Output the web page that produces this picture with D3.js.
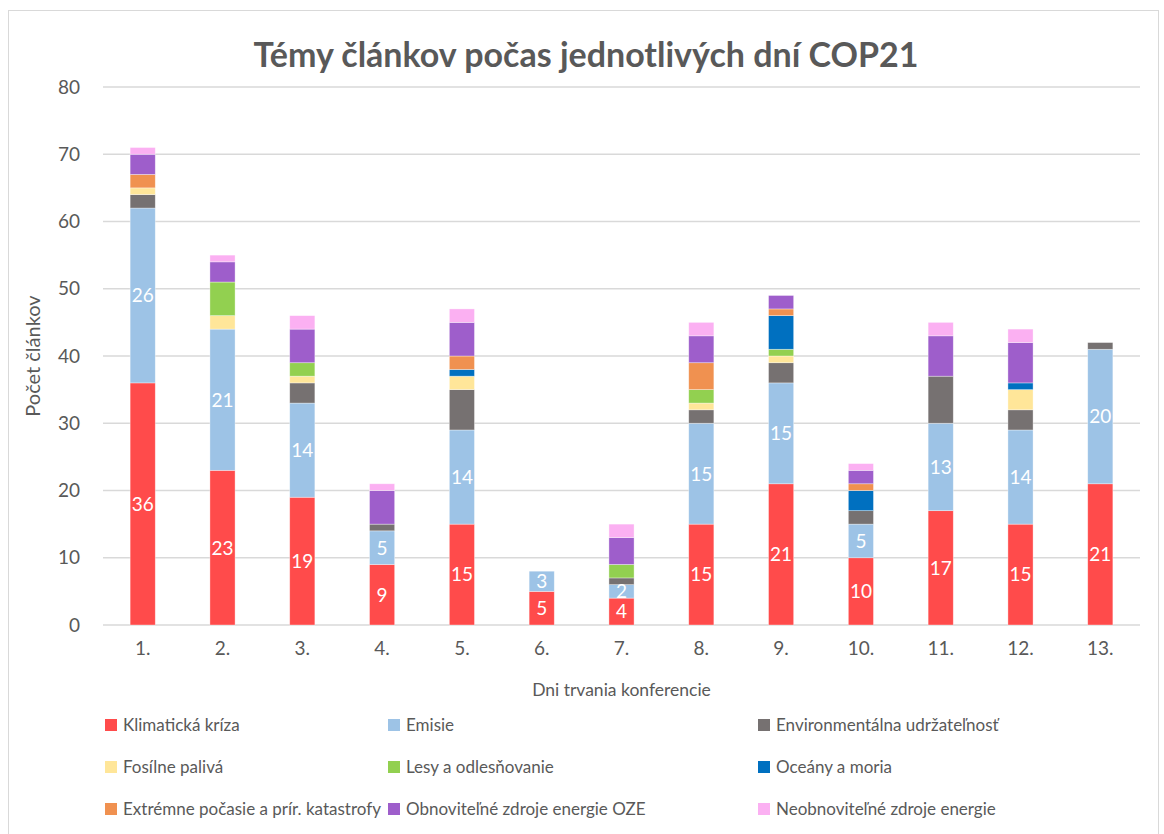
<!DOCTYPE html>
<html>
<head>
<meta charset="utf-8">
<script src="https://cdn.jsdelivr.net/npm/d3@7"></script>
<style>
  body { margin: 0; background: #fff; }
  text { font-family: Lato, "Open Sans", sans-serif; fill: #595959; }
</style>
</head>
<body>
<svg class="chart"></svg>
<script>
// days of the conference
var days = ["1.", "2.", "3.", "4.", "5.", "6.", "7.", "8.", "9.", "10.", "11.", "12.", "13."];

var topics = [
    "Klimatická kríza", "Emisie", "Environmentálna udržateľnosť",
    "Fosílne palivá", "Lesy a odlesňovanie", "Oceány a moria",
    "Extrémne počasie a prír. katastrofy", "Obnoviteľné zdroje energie OZE", "Neobnoviteľné zdroje energie"
];
var colors = ["#ff4b4b", "#9dc3e6", "#767171", "#ffe699", "#92d050", "#0070c0", "#f09150", "#9e5ecb", "#fbb0f2"];

// values per topic, one per day
var klima      = [36, 23, 19, 9, 15, 5, 4, 15, 21, 10, 17, 15, 21];
var emisie     = [26, 21, 14, 5, 14, 3, 2, 15, 15, 5, 13, 14, 20];
var udrzatel   = [2, 0, 3, 1, 6, 0, 1, 2, 3, 2, 7, 3, 1];
var fosilne    = [1, 2, 1, 0, 2, 0, 0, 1, 1, 0, 0, 3, 0];
var lesy       = [0, 5, 2, 0, 0, 0, 2, 2, 1, 0, 0, 0, 0];
var oceany     = [0, 0, 0, 0, 1, 0, 0, 0, 5, 3, 0, 1, 0];
var extremne   = [2, 0, 0, 0, 2, 0, 0, 4, 1, 1, 0, 0, 0];
var oze        = [3, 3, 5, 5, 5, 0, 4, 4, 2, 2, 6, 6, 0];
var neobnov    = [1, 1, 2, 1, 2, 0, 2, 2, 0, 1, 2, 2, 0];

var yTicks = [0, 10, 20, 30, 40, 50, 60, 70, 80];

var series = [klima, emisie, udrzatel, fosilne, lesy, oceany, extremne, oze, neobnov];
// only the first two series carry labels
var labelled = [true, true, false, false, false, false, false, false, false];

const canvas = {width: 1164, height: 834};
const margin = {top: 87, left: 103, right: 24, bottom: 209};
const chart_dimensions = {
    width: canvas.width - margin.left - margin.right,
    height: canvas.height - margin.top - margin.bottom
};

var rows = days.map(function(d, i) {
    var row = {day: d};
    topics.forEach(function(t, k) { row[t] = series[k][i]; });
    return row;
});
var stacked = d3.stack().keys(topics)(rows);

const x_day = d3.scaleBand()
    .domain(days)
    .range([0, chart_dimensions.width])
    .paddingInner(0.685)
    .paddingOuter(0.34);

const y_count = d3.scaleLinear()
    .domain([0, 80])
    .range([chart_dimensions.height, 0]);

const svg = d3.select(".chart")
    .attr("width", canvas.width)
    .attr("height", canvas.height);

// outer frame
svg.append("rect")
    .attr("x", 8.5).attr("y", 10.5)
    .attr("width", 1150).attr("height", 830)
    .attr("fill", "none")
    .attr("stroke", "#d9d9d9");

const plot = svg.append("g")
    .attr("transform", "translate(" + margin.left + "," + margin.top + ")");

// gridlines
plot.append("g")
    .selectAll("line")
    .data(yTicks)
    .enter().append("line")
    .attr("x1", 0).attr("x2", chart_dimensions.width)
    .attr("y1", d => y_count(d)).attr("y2", d => y_count(d))
    .attr("stroke", "#d9d9d9")
    .attr("stroke-width", 1.3);

// y axis labels
const yAxis = d3.axisLeft(y_count).tickValues(yTicks).tickSize(0).tickPadding(23);
plot.append("g").call(yAxis)
    .call(g => g.select(".domain").remove())
    .selectAll("text")
    .style("font-size", "19px")
    .attr("fill", "#595959");

// x axis labels
const xAxis = d3.axisBottom(x_day).tickSize(0).tickPadding(17);
plot.append("g")
    .attr("transform", "translate(0," + chart_dimensions.height + ")")
    .call(xAxis)
    .call(g => g.select(".domain").remove())
    .selectAll("text")
    .style("font-size", "19px")
    .attr("fill", "#595959");

// stacked bars
const layer = plot.selectAll(".layer")
    .data(stacked)
    .enter().append("g")
    .attr("class", "layer")
    .attr("fill", (d, i) => colors[i]);

layer.selectAll("rect")
    .data(d => d.filter(s => s[1] - s[0] > 0))
    .enter().append("rect")
    .attr("x", d => x_day(d.data.day))
    .attr("y", d => y_count(d[1]))
    .attr("width", x_day.bandwidth())
    .attr("height", d => y_count(d[0]) - y_count(d[1]))
    .attr("stroke", "rgba(255,255,255,0.5)")
    .attr("stroke-width", 0.7);

// data labels on the two main series
stacked.forEach(function(s, k) {
    if (!labelled[k]) return;
    plot.append("g").selectAll("text")
        .data(s.filter(p => p[1] - p[0] > 0))
        .enter().append("text")
        .attr("x", d => x_day(d.data.day) + x_day.bandwidth() / 2)
        .attr("y", d => y_count((d[0] + d[1]) / 2))
        .attr("dy", "0.36em")
        .attr("text-anchor", "middle")
        .style("font-size", "19px")
        .style("fill", "#fff")
        .text(d => d[1] - d[0]);
});

// title
svg.append("text")
    .attr("x", 586).attr("y", 67)
    .attr("text-anchor", "middle")
    .style("font-size", "34px")
    .style("font-weight", "bold")
    .text("Témy článkov počas jednotlivých dní COP21");

// axis titles
svg.append("text")
    .attr("transform", "translate(40," + (margin.top + chart_dimensions.height / 2) + "),rotate(-90)")
    .attr("text-anchor", "middle")
    .style("font-size", "20px")
    .text("Počet článkov");

svg.append("text")
    .attr("x", margin.left + chart_dimensions.width / 2)
    .attr("y", 696)
    .attr("text-anchor", "middle")
    .style("font-size", "17.5px")
    .text("Dni trvania konferencie");

// legend, three columns
var legendX = [105, 388, 758];
var legendY = [725, 767, 809];
const legend = svg.append("g").selectAll("g")
    .data(topics)
    .enter().append("g")
    .attr("transform", (d, i) => "translate(" + legendX[i % 3] + "," + legendY[Math.floor(i / 3)] + ")");

legend.append("rect")
    .attr("x", 0).attr("y", -6)
    .attr("width", 12).attr("height", 12)
    .attr("fill", (d, i) => colors[i]);

legend.append("text")
    .attr("x", 18).attr("y", 0)
    .attr("dy", "0.35em")
    .style("font-size", "17px")
    .text(d => d);
</script>
</body>
</html>
